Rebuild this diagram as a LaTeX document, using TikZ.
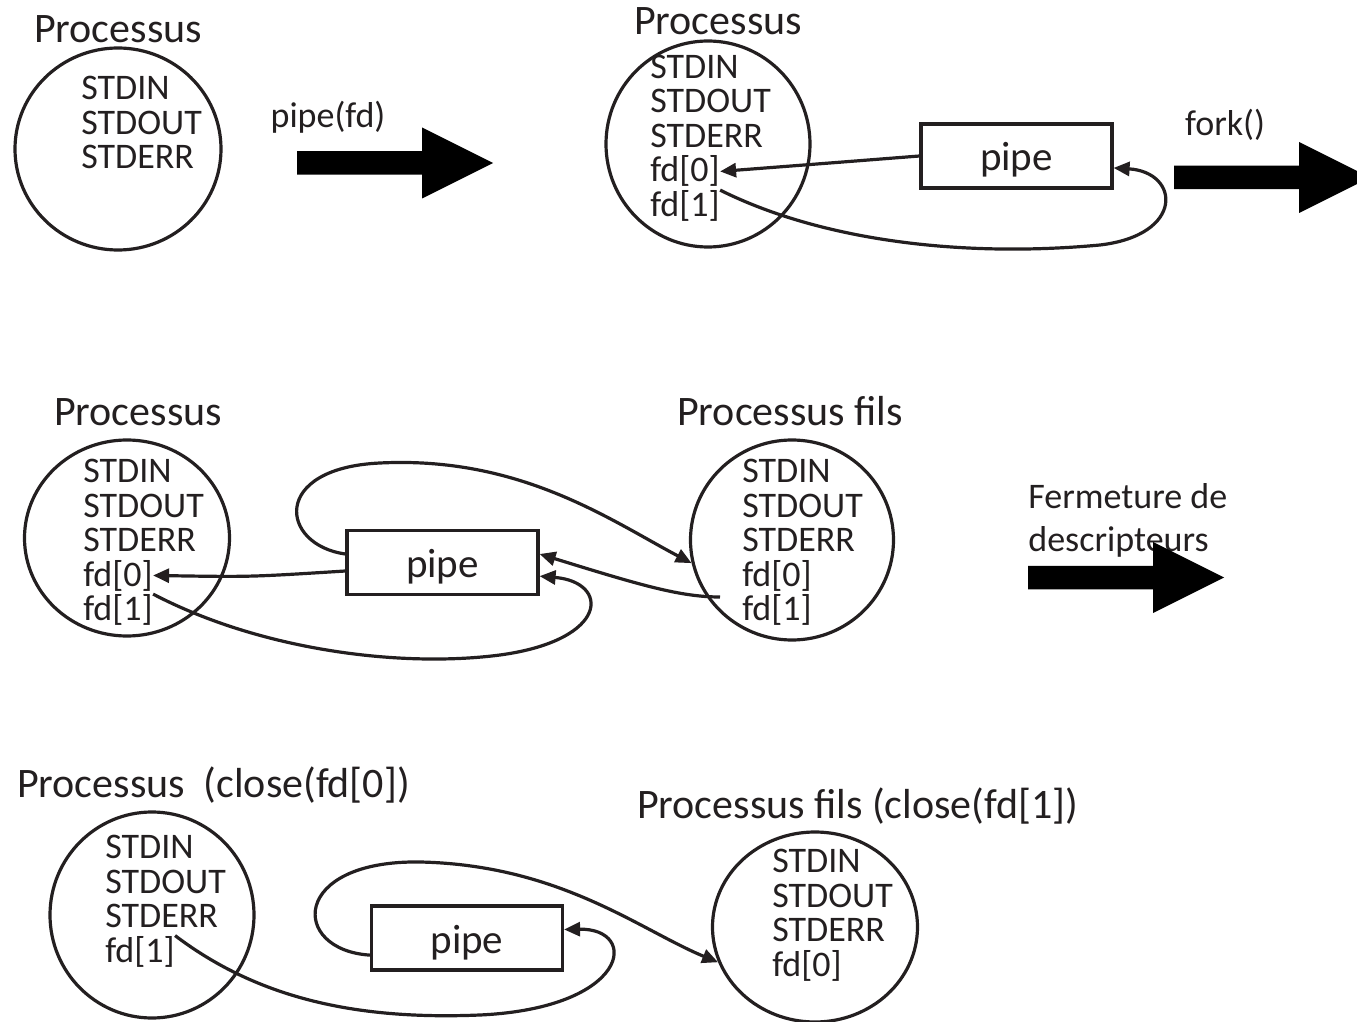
\documentclass[tikz,border=0pt]{standalone}
\usepackage{fontspec}
\setmainfont{Carlito}
\usetikzlibrary{arrows.meta,shapes.geometric}

\definecolor{ink}{HTML}{231F20}
\tikzset{
	proc/.style={draw=ink, ellipse, line width=1.6pt, inner sep=0pt},
	title/.style={text=ink, font=\fontsize{21}{21}\selectfont, anchor=base},
	desc/.style={text=ink, font=\fontsize{18}{18}\selectfont, anchor=base west, inner sep=0pt},
	pipebox/.style={draw=ink, line width=1.6pt, minimum width=95.5pt, minimum height=32pt, text height=19pt, text depth=4pt, font=\fontsize{20.5}{20.5}\selectfont, text=ink},
	conn/.style={draw=ink, line width=1.6pt, -{Triangle[length=8pt,width=7pt]}},
	fat arrow/.pic={\fill[black] (0,-11.75) -- (125,-11.75) -- (125,-35.5) -- (196,0) -- (125,35.5) -- (125,11.75) -- (0,11.75) -- cycle;}
}

\begin{document}
\begin{tikzpicture}[x=0.5pt,y=0.5pt,yscale=-1,xscale=1]
	\useasboundingbox (0,0) rectangle (1357,1022);

	% pipe(fd)
	\node[title] (lblA) at (118,43) {Processus};
	\node[proc, minimum width=103pt, minimum height=101pt] (procA) at (118,149) {};
	\node[desc] (inA) at (81,100) {STDIN};
	\node[desc] (outA) at (81,134.5) {STDOUT};
	\node[desc] (errA) at (81,169) {STDERR};
	\node[desc, anchor=base] (callA) at (328,128) {pipe(fd)};
	\pic at (297,163) {fat arrow};

	% fork()
	\node[title] (lblB) at (718,35) {Processus};
	\node[proc, minimum width=102pt, minimum height=103pt] (procB) at (708,144) {};
	\node[desc] (inB) at (650,78.5) {STDIN};
	\node[desc] (outB) at (650,113) {STDOUT};
	\node[desc] (errB) at (650,147.5) {STDERR};
	\node[desc] (fdB0) at (650,182) {fd[0]};
	\node[desc] (fdB1) at (650,216.5) {fd[1]};
	\node[pipebox] (pipeA) at (1016.5,156) {pipe};
	\node[desc, anchor=base] (callB) at (1225,136) {fork()};
	\pic at (1174,177.5) {fat arrow};

	\draw[conn] (pipeA.west) .. controls (830,163) .. (fdB0.east);
	\draw[conn] (fdB1.north east) .. controls (820,240) and (960,258) .. (1100,245) .. controls (1185,235) and (1180,172) .. (pipeA.-7);

	% apres fork
	\node[title] (lblC) at (138,425) {Processus};
	\node[proc, minimum width=102.5pt, minimum height=98pt] (procC) at (127,538) {};
	\node[desc] (inC) at (83,482.5) {STDIN};
	\node[desc] (outC) at (83,517) {STDOUT};
	\node[desc] (errC) at (83,551.5) {STDERR};
	\node[desc] (fdC0) at (83,586) {fd[0]};
	\node[desc] (fdC1) at (83,620.5) {fd[1]};
	\node[pipebox] (pipeB) at (442.5,562.5) {pipe};

	\node[title] (lblD) at (790,425) {Processus fils};
	\node[proc, minimum width=101.5pt, minimum height=100pt] (procD) at (792,540) {};
	\node[desc] (inD) at (742,482.5) {STDIN};
	\node[desc] (outD) at (742,517) {STDOUT};
	\node[desc] (errD) at (742,551.5) {STDERR};
	\node[desc] (fdD0) at (742,586) {fd[0]};
	\node[desc] (fdD1) at (742,620.5) {fd[1]};
	\coordinate (tickD) at (720,597);

	\node[desc] (fermA) at (1028,509) {Fermeture de};
	\node[desc] (fermB) at (1028,551) {descripteurs};
	\pic at (1028,577.5) {fat arrow};

	\draw[conn] (pipeB.185) .. controls (250,577) .. (fdC0.east);
	\draw[conn] (fdC1.north east) .. controls (260,650) and (400,668) .. (500,655) .. controls (610,640) and (610,582) .. (pipeB.-8);
	\draw[conn] (pipeB.175) .. controls (280,545) and (270,468) .. (380,463) .. controls (520,456) and (610,520) .. (procD.193);
	\draw[conn] (tickD) .. controls (680,597) and (640,585) .. (pipeB.5);

	% fermeture
	\node[title, anchor=base west] (lblE) at (10,797) {Processus\ \ (close(fd[0])};
	\node[proc, minimum width=102pt, minimum height=103pt] (procE) at (152,915) {};
	\node[desc] (inE) at (105,858.5) {STDIN};
	\node[desc] (outE) at (105,893) {STDOUT};
	\node[desc] (errE) at (105,927.5) {STDERR};
	\node[desc] (fdE1) at (105,962) {fd[1]};
	\node[pipebox] (pipeC) at (467,938) {pipe};

	\node[title, anchor=base west] (lblF) at (630,818) {Processus fils (close(fd[1])};
	\node[proc, minimum width=102.5pt, minimum height=95pt] (procF) at (815,927) {};
	\node[desc] (inF) at (772,872.5) {STDIN};
	\node[desc] (outF) at (772,907) {STDOUT};
	\node[desc] (errF) at (772,941.5) {STDERR};
	\node[desc] (fdF0) at (772,976) {fd[0]};

	\draw[conn] (fdE1.north east) .. controls (260,1000) and (360,1020) .. (480,1015) .. controls (630,1008) and (640,928) .. (pipeC.5);
	\draw[conn] (pipeC.190) .. controls (290,950) and (290,860) .. (420,862) .. controls (560,865) and (640,930) .. (procF.200);

\end{tikzpicture}
\end{document}
